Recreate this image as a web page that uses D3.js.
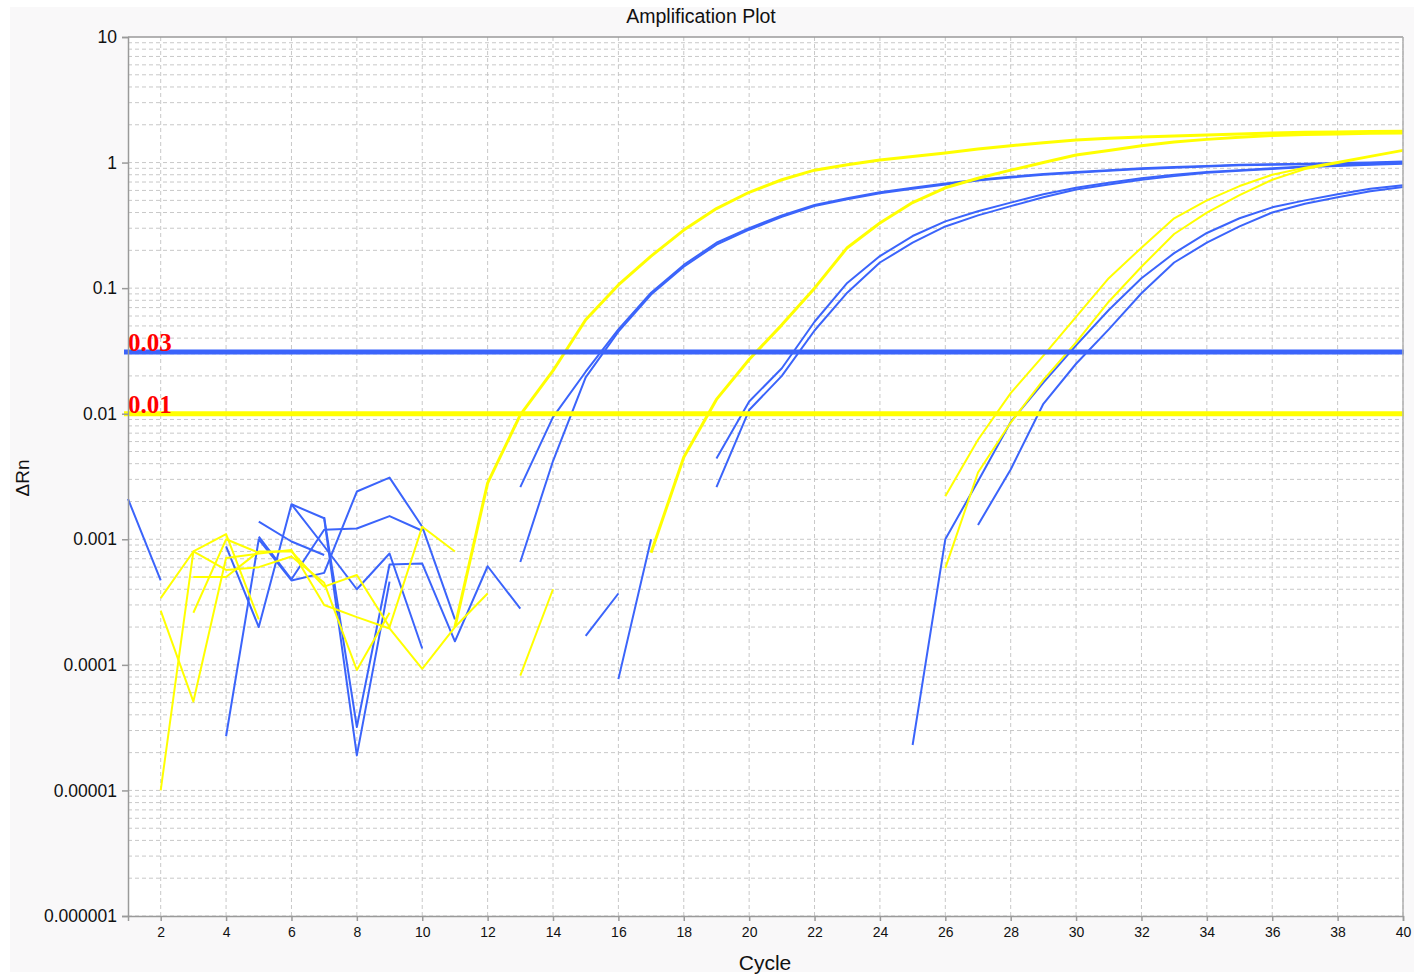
<!DOCTYPE html>
<html>
<head>
<meta charset="utf-8">
<script src="https://cdn.jsdelivr.net/npm/d3@7"></script>
<style>
  body { margin: 0; background: #ffffff; }
  text { font-family: "Liberation Sans", Arial, sans-serif; }
</style>
</head>
<body>
<svg id="chart" width="1421" height="974"></svg>
<script>
// cykly na ose x
const cycles = [1, 2, 3, 4, 5, 6, 7, 8, 9, 10, 11, 12, 13, 14, 15, 16, 17, 18, 19, 20,
                21, 22, 23, 24, 25, 26, 27, 28, 29, 30, 31, 32, 33, 34, 35, 36, 37, 38, 39, 40];
const xTicks = [2, 4, 6, 8, 10, 12, 14, 16, 18, 20, 22, 24, 26, 28, 30, 32, 34, 36, 38, 40];
const yTicks = [10, 1, 0.1, 0.01, 0.001, 0.0001, 0.00001, 0.000001];
const yTickLabels = ["10", "1", "0.1", "0.01", "0.001", "0.0001", "0.00001", "0.000001"];

// delta Rn hodnoty, null = zaporna hodnota (na log ose se nekresli)
const blue1 = [0.0021, 0.00047, null, 0.00088, 0.0002, 0.0019, 0.00147, 1.9e-5, 0.00046, null, null, null,
  0.0026, 0.0094, 0.0216, 0.047, 0.092, 0.153, 0.23, 0.30, 0.38, 0.46, 0.52, 0.58, 0.63, 0.68, 0.73, 0.77, 0.81, 0.84,
  0.87, 0.90, 0.92, 0.94, 0.96, 0.97, 0.98, 0.99, 1.0, 1.02];
const blue2 = [null, null, null, 2.7e-5, 0.001, 0.00047, 0.00054, 0.0024, 0.0031, 0.00126, 0.00023, null,
  0.00066, 0.0042, 0.0195, 0.045, 0.089, 0.148, 0.222, 0.292, 0.37, 0.45, 0.51, 0.57, 0.62, 0.67, 0.72, 0.76, 0.80, 0.83,
  0.86, 0.89, 0.91, 0.93, 0.95, 0.96, 0.97, 0.98, 0.99, 1.0];
const blue3 = [null, null, null, null, 0.00138, 0.00096, 0.00075, null, null, null, null, null, null, null,
  0.00017, 0.00037, null, null, 0.0044, 0.0125, 0.023, 0.054, 0.11, 0.18, 0.26, 0.34, 0.41, 0.48, 0.56, 0.63,
  0.69, 0.75, 0.80, 0.84, 0.87, 0.90, 0.93, 0.95, 0.97, 0.99];
const blue4 = [null, null, null, null, 0.00105, 0.00048, 0.00119, 0.00122, 0.00153, 0.00117, null, null, null, null, null,
  7.7e-5, 0.001, null, 0.0026, 0.0107, 0.020, 0.046, 0.092, 0.16, 0.23, 0.31, 0.38, 0.45, 0.53, 0.61,
  0.67, 0.73, 0.78, 0.83, 0.86, 0.89, 0.92, 0.94, 0.96, 0.98];
const blue5 = [null, null, null, null, null, 0.0019, 0.00088, 0.0004, 0.00077, 0.000135,
  null, null, null, null, null, null, null, null, null, null, null, null, null, null,
  2.3e-5, 0.001, 0.0029, 0.0086, 0.0177, 0.035, 0.067, 0.12, 0.19, 0.275, 0.36, 0.44, 0.50, 0.56, 0.62, 0.66];
const blue6 = [null, null, null, null, null, null, 0.0015, 3.2e-5, 0.00063, 0.00064, 0.000154, 0.00061, 0.00028,
  null, null, null, null, null, null, null, null, null, null, null, null, null,
  0.0013, 0.0036, 0.012, 0.025, 0.047, 0.091, 0.16, 0.23, 0.31, 0.40, 0.47, 0.53, 0.59, 0.64];

const yellow1 = [null, null, null, null, null, null, null, null, null, null,
  0.0002, 0.0028, 0.0098, 0.022, 0.056, 0.106, 0.18, 0.29, 0.43, 0.58, 0.73, 0.87, 0.96, 1.05, 1.12, 1.19, 1.28, 1.36, 1.44, 1.51,
  1.56, 1.60, 1.63, 1.66, 1.69, 1.72, 1.74, 1.75, 1.77, 1.78];
const yellow2 = [null, null, null, null, null, null, null, null, null, null, null, null,
  null, null, null, null, 0.00078, 0.0045, 0.013, 0.027, 0.051, 0.10, 0.21, 0.33, 0.48, 0.63, 0.75, 0.87, 1.0, 1.15,
  1.25, 1.36, 1.46, 1.53, 1.59, 1.64, 1.67, 1.69, 1.71, 1.72];
const yellow3 = [null, 1e-5, 0.0008, 0.00057, 0.0006, 0.00073, 0.00045, 9.1e-5, 0.00026, null, null, null, 8.2e-5, 0.0004,
  null, null, null, null, null, null, null, null, null, null, null,
  0.0022, 0.0062, 0.0146, 0.029, 0.059, 0.12, 0.21, 0.36, 0.50, 0.65, 0.80, 0.91, 1.01, 1.13, 1.26];
const yellow4 = [null, null, 0.0005, 0.0005, 0.0008, 0.0008, 0.00042, 0.00052, 0.0002, 0.00126, 0.0008,
  null, null, null, null, null, null, null, null, null, null, null, null, null, null,
  0.00059, 0.0034, 0.0085, 0.0186, 0.037, 0.078, 0.148, 0.27, 0.40, 0.55, 0.73, 0.89, 0.99, 1.11, 1.24];
// sum pred amplifikaci (tenke cary)
const yellow5 = [null, 0.00034, 0.0008, 0.0011, 0.00023, null, null, null, null, null, null, null, null, null, null, null, null, null, null, null,
  null, null, null, null, null, null, null, null, null, null, null, null, null, null, null, null, null, null, null, null];
const yellow6 = [null, 0.00027, 5.1e-5, 0.00071, 0.00077, 0.00082, 0.0003, 0.00024, 0.000195, 9.3e-5, 0.0002, 0.00037,
  null, null, null, null, null, null, null, null, null, null, null, null, null, null, null, null, null, null,
  null, null, null, null, null, null, null, null, null, null];
const yellow7 = [null, null, 0.00026, 0.001, 0.00078, null, null, null, null, null, null, null, null, null, null, null, null, null, null, null,
  null, null, null, null, null, null, null, null, null, null, null, null, null, null, null, null, null, null, null, null];

// prahove hodnoty (threshold)
const thresholdValues = [0.031, 0.01];
const thresholdLabels = ["0.03", "0.01"];

const BLUE = "#3b64fb";
const YELLOW = "#ffff00";

const curves = [
  { values: blue1, color: BLUE, width: 2 },
  { values: blue2, color: BLUE, width: 2 },
  { values: blue3, color: BLUE, width: 2 },
  { values: blue4, color: BLUE, width: 2 },
  { values: blue5, color: BLUE, width: 2 },
  { values: blue6, color: BLUE, width: 2 },
  { values: yellow5, color: YELLOW, width: 2 },
  { values: yellow6, color: YELLOW, width: 2 },
  { values: yellow7, color: YELLOW, width: 2 },
  { values: yellow1, color: YELLOW, width: 3 },
  { values: yellow2, color: YELLOW, width: 3 },
  { values: yellow3, color: YELLOW, width: 2 },
  { values: yellow4, color: YELLOW, width: 2 }
];
const thresholdColors = [BLUE, YELLOW];

const svg = d3.select("#chart");
const pLeft = 128, pRight = 1403, pTop = 37, pBottom = 916;

// pozadi
svg.append("rect").attr("x", 10).attr("y", 7).attr("width", 1404).attr("height", 965).attr("fill", "#f9f8f9");
svg.append("rect").attr("x", pLeft).attr("y", pTop).attr("width", pRight - pLeft).attr("height", pBottom - pTop).attr("fill", "#ffffff");

const x = d3.scaleLinear().domain([1, 40]).range([pLeft, pRight]);
const y = d3.scaleLog().domain([0.000001, 10]).range([pBottom, pTop]);

// mrizka - svisle cary
svg.append("g").selectAll("line").data(xTicks).join("line")
  .attr("x1", d => x(d)).attr("x2", d => x(d))
  .attr("y1", pTop).attr("y2", pBottom)
  .attr("stroke", "#c8c8c8").attr("stroke-width", 1).attr("stroke-dasharray", "4,3");

// mrizka - vodorovne cary (kazda hodnota 1..9 v dekade)
const minor = y.ticks().filter(v => v < 10);
svg.append("g").selectAll("line").data(minor).join("line")
  .attr("x1", pLeft).attr("x2", pRight)
  .attr("y1", d => y(d)).attr("y2", d => y(d))
  .attr("stroke", "#c8c8c8").attr("stroke-width", 1).attr("stroke-dasharray", "4,3");

// krivky
svg.append("clipPath").attr("id", "clip").append("rect")
  .attr("x", pLeft - 5).attr("y", pTop).attr("width", pRight - pLeft + 6).attr("height", pBottom - pTop);

const line = d3.line()
  .defined(d => d.v != null)
  .x(d => x(d.c))
  .y(d => y(d.v));

const plot = svg.append("g").attr("clip-path", "url(#clip)");
curves.forEach(s => {
  plot.append("path")
    .datum(cycles.map((c, i) => ({ c: c, v: s.values[i] })))
    .attr("d", line)
    .attr("fill", "none")
    .attr("stroke", s.color)
    .attr("stroke-width", s.width)
    .attr("stroke-linejoin", "round");
});

// prahove cary
thresholdValues.forEach((t, i) => {
  plot.append("line")
    .attr("x1", pLeft - 4).attr("x2", pRight + 1)
    .attr("y1", y(t)).attr("y2", y(t))
    .attr("stroke", thresholdColors[i]).attr("stroke-width", 5);
  svg.append("text")
    .attr("x", pLeft).attr("y", y(t) - 1)
    .attr("fill", "#ff0000")
    .style("font-family", "'Liberation Serif', 'Times New Roman', serif")
    .style("font-weight", "bold")
    .style("font-size", "25px")
    .text(thresholdLabels[i]);
});

// osy
const xAxis = d3.axisBottom(x).tickValues(xTicks).tickSize(5).tickPadding(6).tickFormat(d3.format("d"));
const gx = svg.append("g").attr("transform", `translate(0,${pBottom})`).call(xAxis);
gx.select(".domain").attr("stroke", "#9a9a9a").attr("stroke-width", 1.5);
gx.selectAll(".tick line").attr("stroke", "#9a9a9a").attr("stroke-width", 1.5);
gx.selectAll(".tick text").style("font-size", "14px").attr("fill", "#111");

const yAxis = d3.axisLeft(y).tickValues(yTicks).tickSize(6).tickPadding(5)
  .tickFormat((d, i) => yTickLabels[i]);
const gy = svg.append("g").attr("transform", `translate(${pLeft},0)`).call(yAxis);
gy.select(".domain").attr("stroke", "#9a9a9a").attr("stroke-width", 1.5);
gy.selectAll(".tick line").attr("stroke", "#9a9a9a").attr("stroke-width", 1.5);
gy.selectAll(".tick text").style("font-size", "17.5px").attr("fill", "#111");

// horni a pravy okraj
svg.append("line").attr("x1", pLeft).attr("x2", pRight).attr("y1", pTop).attr("y2", pTop)
  .attr("stroke", "#9a9a9a").attr("stroke-width", 1.5);
svg.append("line").attr("x1", pRight).attr("x2", pRight).attr("y1", pTop).attr("y2", pBottom)
  .attr("stroke", "#b0b0b0").attr("stroke-width", 1.5);

// popisky
svg.append("text").attr("x", 701).attr("y", 23).attr("text-anchor", "middle")
  .style("font-size", "19.5px").attr("fill", "#111").text("Amplification Plot");
svg.append("text").attr("x", 765).attr("y", 970).attr("text-anchor", "middle")
  .style("font-size", "21px").attr("fill", "#111").text("Cycle");
svg.append("text").attr("transform", "translate(29,478) rotate(-90)").attr("text-anchor", "middle")
  .style("font-size", "19px").attr("fill", "#111").text("ΔRn");
</script>
</body>
</html>
